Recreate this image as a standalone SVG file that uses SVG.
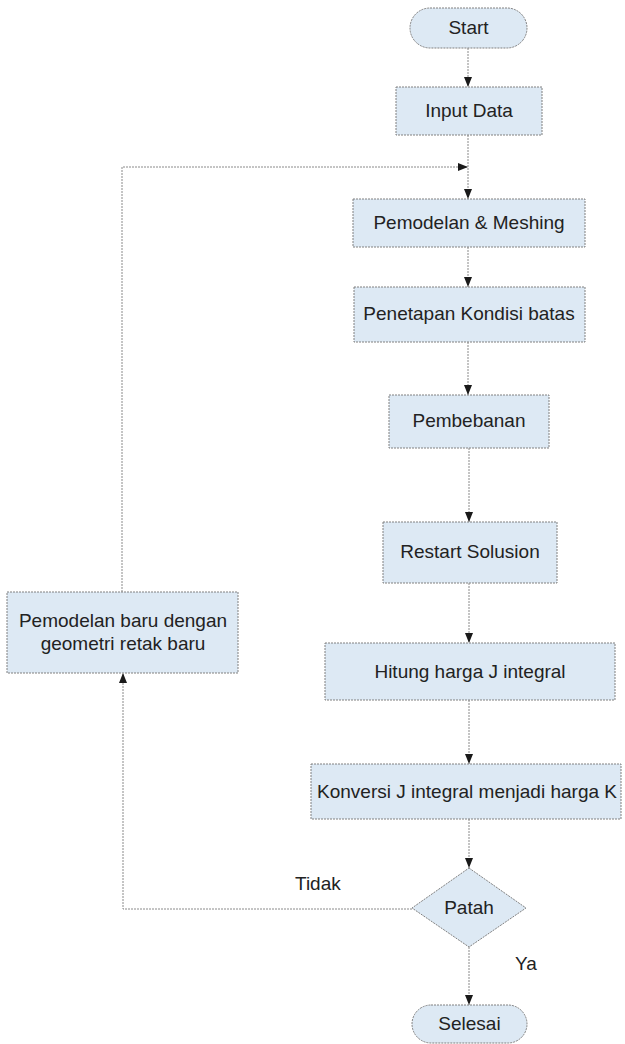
<svg xmlns="http://www.w3.org/2000/svg" width="625" height="1044" viewBox="0 0 625 1044">
<defs>
<style>
.box{fill:#dde9f4;stroke:#808080;stroke-width:1;stroke-dasharray:2,1}
.lbl{font-family:"Liberation Sans",Arial,sans-serif;font-size:19px;fill:#222222;text-anchor:middle}
.edge{fill:none;stroke:#8a8a8a;stroke-width:1;stroke-dasharray:2,1}
.elbl{font-family:"Liberation Sans",Arial,sans-serif;font-size:19px;fill:#222222}
</style>
<marker id="arr" markerUnits="userSpaceOnUse" markerWidth="10" markerHeight="10" viewBox="0 0 10 10" refX="10" refY="5" orient="auto">
<path d="M0,1 L10,5 L0,9 Z" fill="#1a1a1a"/>
</marker>
</defs>
<rect width="625" height="1044" fill="#ffffff"/>

<g id="connectors">
<line class="edge" x1="468" y1="48" x2="468" y2="87" marker-end="url(#arr)"/>
<line class="edge" x1="468" y1="135" x2="468" y2="199" marker-end="url(#arr)"/>
<polyline class="edge" points="122,592 122,167 468,167" marker-end="url(#arr)"/>
<line class="edge" x1="468" y1="247" x2="468" y2="287" marker-end="url(#arr)"/>
<line class="edge" x1="468" y1="342" x2="468" y2="395" marker-end="url(#arr)"/>
<line class="edge" x1="469" y1="448" x2="469" y2="522" marker-end="url(#arr)"/>
<line class="edge" x1="469" y1="583" x2="469" y2="643" marker-end="url(#arr)"/>
<line class="edge" x1="469" y1="700" x2="469" y2="764" marker-end="url(#arr)"/>
<line class="edge" x1="469" y1="819" x2="469" y2="868" marker-end="url(#arr)"/>
<line class="edge" x1="469" y1="947" x2="469" y2="1005" marker-end="url(#arr)"/>
<polyline class="edge" points="412,909 123,909 123,673" marker-end="url(#arr)"/>
<text class="elbl" x="295" y="890">Tidak</text>
<text class="elbl" x="515" y="970">Ya</text>
</g>

<g id="start">
<rect class="box" x="410" y="8" width="117" height="40" rx="20" ry="20"/>
<text class="lbl" x="468.5" y="34">Start</text>
</g>
<g id="input-data">
<rect class="box" x="396" y="87" width="146" height="48"/>
<text class="lbl" x="469" y="117">Input Data</text>
</g>
<g id="pemodelan-meshing">
<rect class="box" x="353" y="199" width="232" height="48"/>
<text class="lbl" x="469" y="229">Pemodelan &amp; Meshing</text>
</g>
<g id="penetapan">
<rect class="box" x="354" y="287" width="231" height="55"/>
<text class="lbl" x="469" y="320">Penetapan Kondisi batas</text>
</g>
<g id="pembebanan">
<rect class="box" x="389" y="395" width="160" height="53"/>
<text class="lbl" x="469" y="427">Pembebanan</text>
</g>
<g id="restart">
<rect class="box" x="383" y="522" width="174" height="61"/>
<text class="lbl" x="470" y="558">Restart Solusion</text>
</g>
<g id="hitung">
<rect class="box" x="325" y="643" width="290" height="57"/>
<text class="lbl" x="470" y="678">Hitung harga J integral</text>
</g>
<g id="konversi">
<rect class="box" x="311" y="764" width="310" height="55"/>
<text class="lbl" x="467" y="798">Konversi J integral menjadi harga K</text>
</g>
<g id="patah">
<polygon class="box" points="469,868 526,908 469,947 412,908"/>
<text class="lbl" x="469" y="914">Patah</text>
</g>
<g id="selesai">
<rect class="box" x="412" y="1005" width="115" height="38" rx="19" ry="19"/>
<text class="lbl" x="469.5" y="1030">Selesai</text>
</g>
<g id="pemodelan-baru">
<rect class="box" x="7" y="592" width="231" height="81"/>
<text class="lbl" x="123" y="627">Pemodelan baru dengan</text>
<text class="lbl" x="123" y="650">geometri retak baru</text>
</g>
</svg>
